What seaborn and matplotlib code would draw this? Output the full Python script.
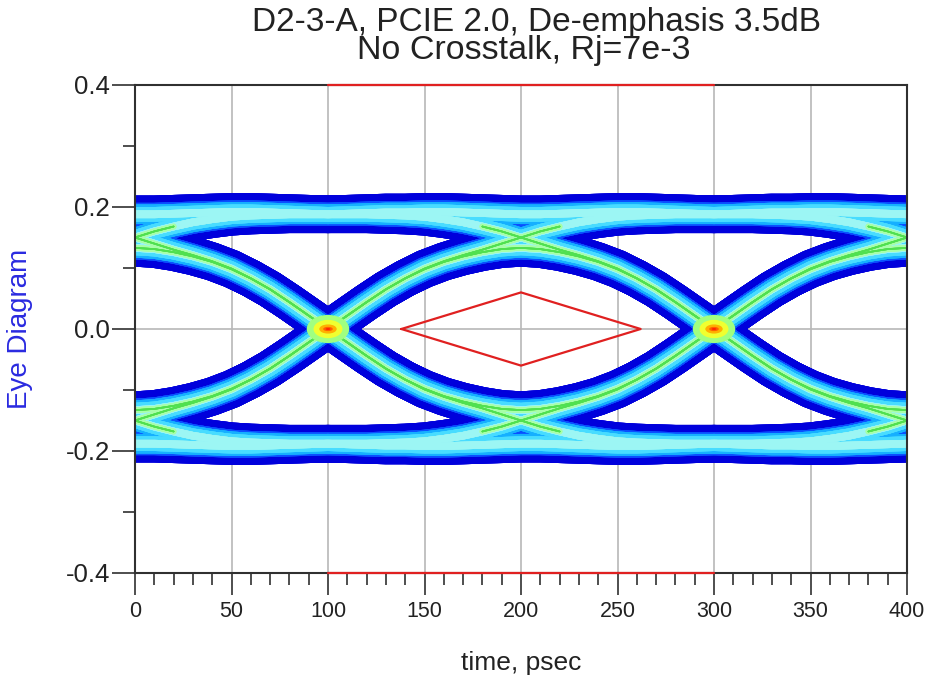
import itertools
import numpy as np
import pandas as pd
import matplotlib
matplotlib.use("Agg")
import matplotlib.pyplot as plt
from matplotlib.patches import Ellipse
from matplotlib.ticker import MultipleLocator, FixedLocator
import seaborn as sns

# ---------------- data ----------------
TITLE_1 = "D2-3-A, PCIE 2.0, De-emphasis 3.5dB"
TITLE_2 = "No Crosstalk, Rj=7e-3"
X_LABEL = "time, psec"
Y_LABEL = "Eye Diagram"

# time offsets (ps) inside one unit interval, relative to bit centre
UI_OFFSETS = [-100, -90, -80, -70, -60, -50, -40, -30, -20, -10, 0,
              10, 20, 30, 40, 50, 60, 70, 80, 90, 100]
# bit centres in the 0..400 ps window
UI_CENTRES = [0, 200, 400]

# band-centre voltage of a '1' bit, depending on neighbouring bits
SEG_PULSE = [0.000, 0.022, 0.044, 0.065, 0.083, 0.098, 0.110, 0.119, 0.126, 0.131, 0.133,
             0.131, 0.126, 0.119, 0.110, 0.098, 0.083, 0.065, 0.044, 0.022, 0.000]   # 0-1-0
SEG_RISE = [0.000, 0.022, 0.044, 0.065, 0.083, 0.099, 0.111, 0.121, 0.130, 0.140, 0.150,
            0.160, 0.168, 0.175, 0.180, 0.184, 0.186, 0.187, 0.188, 0.188, 0.188]    # 0-1-1
SEG_FALL = [0.188, 0.188, 0.188, 0.187, 0.186, 0.184, 0.180, 0.175, 0.168, 0.160, 0.150,
            0.140, 0.130, 0.121, 0.111, 0.099, 0.083, 0.065, 0.044, 0.022, 0.000]    # 1-1-0
SEG_FLAT = [0.188, 0.189, 0.190, 0.191, 0.191, 0.192, 0.192, 0.191, 0.190, 0.189, 0.188,
            0.188, 0.189, 0.190, 0.191, 0.192, 0.192, 0.191, 0.190, 0.189, 0.188]    # 1-1-1

# eye crossing points (hot spots)
CROSS_T = [100, 300]
CROSS_V = [0.0, 0.0]

# compliance mask
MASK_T = [138, 200, 262, 200, 138]
MASK_V = [0.0, 0.06, 0.0, -0.06, 0.0]
MASK_LIMIT_T = [100, 300]
MASK_LIMIT_V = [0.4, -0.4]

X_TICKS = [0, 50, 100, 150, 200, 250, 300, 350, 400]
Y_TICKS = [-0.4, -0.2, 0.0, 0.2, 0.4]
Y_TICK_LABELS = ["-0.4", "-0.2", "0.0", "0.2", "0.4"]
Y_MINOR = [-0.3, -0.1, 0.1, 0.3]

# ---------------- build traces ----------------
shapes = {(False, False): SEG_PULSE, (False, True): SEG_RISE,
          (True, False): SEG_FALL, (True, True): SEG_FLAT}
rows = []
for tid, bits in enumerate(itertools.product([0, 1], repeat=len(UI_CENTRES) + 2)):
    for k, c in enumerate(UI_CENTRES, start=1):
        prev, cur, nxt = bits[k - 1], bits[k], bits[k + 1]
        seg = shapes[(prev == cur, nxt == cur)]
        sign = 1.0 if cur else -1.0
        start = 0 if k == 1 else 1
        for off, v in list(zip(UI_OFFSETS, seg))[start:]:
            rows.append({"trace": tid, "t": c + off, "v": sign * v})
df = pd.DataFrame(rows)

# ---------------- style ----------------
sns.set_style("white")
plt.rcParams["font.family"] = ["Liberation Sans", "DejaVu Sans"]
plt.rcParams["lines.solid_joinstyle"] = "round"
plt.rcParams["axes.unicode_minus"] = False

fig = plt.figure(figsize=(9.3, 6.8), dpi=100)
ax = fig.add_axes([135 / 930, 1 - 573 / 680, 772 / 930, 488 / 680])

# density-like colour bands: widest (outer, dark blue) first
layers = [("#0000dc", 27), ("#0a50ff", 16.5), ("#16b0ff", 14),
          ("#48dcff", 10.5), ("#9cf6f4", 5.5)]
for i, (col, lw) in enumerate(layers):
    sns.lineplot(data=df, x="t", y="v", units="trace", estimator=None, sort=False,
                 color=col, linewidth=lw, ax=ax, legend=False, zorder=2 + i * 0.01,
                 solid_joinstyle="round", solid_capstyle="butt")

# green cores only on the transition parts of the traces
core = df.copy()
core.loc[core["v"].abs() > 0.172, "v"] = np.nan
for col, lw, z in [("#a8ffa8", 4.0, 2.1), ("#50e050", 1.2, 2.11)]:
    for _, g in core.groupby("trace"):
        ax.plot(g["t"].to_numpy(), g["v"].to_numpy(), color=col, lw=lw, zorder=z,
                solid_joinstyle="round", solid_capstyle="round")

hot = [(22, 0.046, "#a0ff80"), (15, 0.030, "#f0ff30"), (9, 0.015, "#ffb000"),
       (5, 0.007, "#ff6000"), (2.5, 0.003, "#ff2000")]
for t, v in zip(CROSS_T, CROSS_V):
    for w, h, col in hot:
        ax.add_patch(Ellipse((t, v), w, h, facecolor=col, edgecolor="none", zorder=3))

# mask
ax.plot(MASK_T, MASK_V, color="#e02020", lw=1.6, zorder=5)
for lv in MASK_LIMIT_V:
    ax.plot(MASK_LIMIT_T, [lv, lv], color="#e02020", lw=1.6, zorder=6, clip_on=False)

ax.set_xlim(0, 400)
ax.set_ylim(-0.4, 0.4)
ax.xaxis.set_major_locator(FixedLocator(X_TICKS))
ax.xaxis.set_minor_locator(MultipleLocator(10))
ax.yaxis.set_major_locator(FixedLocator(Y_TICKS))
ax.yaxis.set_minor_locator(FixedLocator(Y_MINOR))
ax.set_yticklabels(Y_TICK_LABELS)
ax.set_xticklabels([str(x) for x in X_TICKS])

ax.grid(True, which="major", color="#b8b8b8", lw=1.2, zorder=0)
ax.set_axisbelow(True)
for s in ax.spines.values():
    s.set_color("#303030")
    s.set_linewidth(1.5)
    s.set_zorder(4)

ax.tick_params(axis="both", which="both", bottom=True, left=True, top=False, right=False)
ax.tick_params(axis="x", which="major", direction="out", length=15.5, width=1.2,
               color="#303030", labelsize=15.5, pad=5, labelcolor="#222222")
ax.tick_params(axis="x", which="minor", direction="out", length=8.5, width=1.2, color="#303030")
ax.tick_params(axis="y", which="major", direction="out", length=16.5, width=1.2,
               color="#303030", labelsize=18.5, pad=1.5, labelcolor="#222222")
ax.tick_params(axis="y", which="minor", direction="out", length=8.5, width=1.2, color="#303030")

ax.set_xlabel(X_LABEL, fontsize=19, color="#222222")
ax.xaxis.set_label_coords(0.5, -(663 - 573) / 488)
ax.xaxis.label.set_va("center")
ax.set_ylabel(Y_LABEL, fontsize=20, color="#2a2ae0")
ax.yaxis.set_label_coords((33 - 135) / 772, 0.5)

fig.text(537 / 930, 1 - 23 / 680, TITLE_1, ha="center", va="center", fontsize=24, color="#222222")
fig.text(524 / 930, 1 - 51 / 680, TITLE_2, ha="center", va="center", fontsize=24.5, color="#222222")

fig.savefig("out.png", dpi=100)
